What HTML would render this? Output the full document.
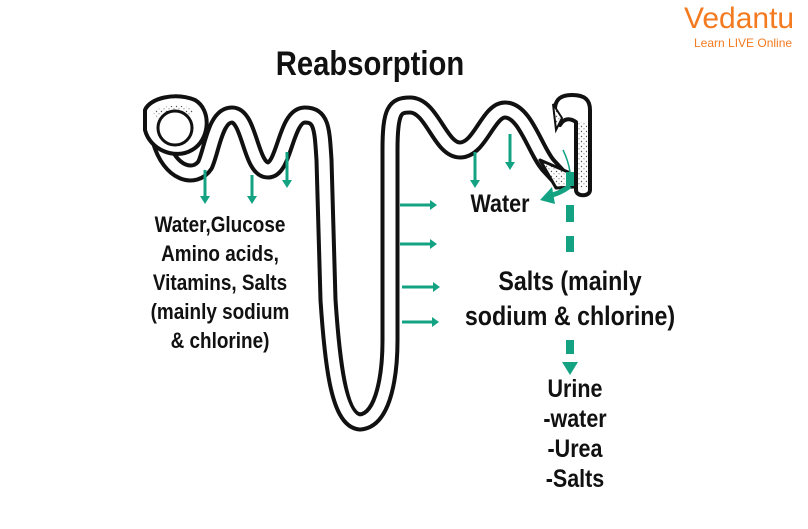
<!DOCTYPE html>
<html><head><meta charset="utf-8"><style>
html,body{margin:0;padding:0;background:#fff;}
body{width:808px;height:529px;overflow:hidden;position:relative;font-family:"Liberation Sans",sans-serif;}
.t{position:absolute;font-weight:bold;color:#111;text-align:center;transform:scaleX(0.86);transform-origin:center top;}
</style></head><body>
<svg width="808" height="529" style="position:absolute;left:0;top:0">
<defs>
<pattern id="dots" width="5" height="5" patternUnits="userSpaceOnUse"><rect width="5" height="5" fill="#fff"/><circle cx="1.5" cy="1.5" r="0.7" fill="#555"/><circle cx="4" cy="3.8" r="0.6" fill="#777"/></pattern>
</defs>
<g fill="none" stroke-linecap="round" stroke-linejoin="round">
<path d="M160 140 C 170 175, 195 180, 205 165 C 212 150, 215 115, 232 115 C 250 115, 250 170, 268 170 C 285 170, 285 115, 305 115 C 322 115, 322 130, 324 160 L 328 300 C 332 360, 338 420, 360 422 C 385 420, 390 370, 390 340 L 390 150 C 390 110, 395 105, 410 105 C 432 105, 440 150, 460 150 C 480 150, 488 110, 505 110 C 525 110, 535 150, 548 165 L 560 178" stroke="#111" stroke-width="19"/>
<path d="M160 140 C 170 175, 195 180, 205 165 C 212 150, 215 115, 232 115 C 250 115, 250 170, 268 170 C 285 170, 285 115, 305 115 C 322 115, 322 130, 324 160 L 328 300 C 332 360, 338 420, 360 422 C 385 420, 390 370, 390 340 L 390 150 C 390 110, 395 105, 410 105 C 432 105, 440 150, 460 150 C 480 150, 488 110, 505 110 C 525 110, 535 150, 548 165 L 560 178" stroke="#fff" stroke-width="11"/>
</g>
<path d="M145 110 C 150 98, 175 92, 195 100 C 212 110, 210 140, 192 150 C 175 160, 150 150, 145 130 Z" fill="#fff" stroke="#111" stroke-width="4"/>
<path d="M152 112 C 165 104, 185 104, 195 110 C 190 120, 172 118, 162 122 Z" fill="url(#dots)"/>
<circle cx="175" cy="128" r="17" fill="#fff" stroke="#111" stroke-width="3"/>
<!-- DCT / collecting duct -->
<path d="M556 118 C 552 100, 560 95, 572 95 C 585 95, 590 100, 590 110 L 590 190 C 590 197, 576 197, 576 190 L 576 122 C 570 118, 564 118, 560 125 Z" fill="#fff" stroke="#111" stroke-width="4" stroke-linejoin="round"/>
<path d="M553 104 L 562 118 L 556 130 Z" fill="url(#dots)" stroke="#111" stroke-width="2"/>
<rect x="578" y="122" width="9" height="66" fill="url(#dots)"/>
<path d="M540 160 L 568 172 L 574 187 L 556 188 Z" fill="url(#dots)" stroke="#111" stroke-width="3" stroke-linejoin="round"/>
<g stroke="#13a383" stroke-width="3" fill="#13a383">
<line x1="205" y1="170" x2="205" y2="196"/><path d="M200 196 L210 196 L205 204 Z" stroke="none"/>
<line x1="252" y1="175" x2="252" y2="196"/><path d="M247 196 L257 196 L252 204 Z" stroke="none"/>
<line x1="287" y1="152" x2="287" y2="180"/><path d="M282 180 L292 180 L287 188 Z" stroke="none"/>
<line x1="475" y1="152" x2="475" y2="180"/><path d="M470 180 L480 180 L475 188 Z" stroke="none"/>
<line x1="510" y1="134" x2="510" y2="162"/><path d="M505 162 L515 162 L510 170 Z" stroke="none"/>
<line x1="400" y1="205" x2="430" y2="205"/><path d="M430 200 L430 210 L437 205 Z" stroke="none"/>
<line x1="400" y1="244" x2="430" y2="244"/><path d="M430 239 L430 249 L437 244 Z" stroke="none"/>
<line x1="402" y1="287" x2="433" y2="287"/><path d="M433 282 L433 292 L440 287 Z" stroke="none"/>
<line x1="402" y1="322" x2="432" y2="322"/><path d="M432 317 L432 327 L439 322 Z" stroke="none"/>
</g>
<rect x="566" y="172" width="8" height="14" fill="#13a383"/>
<rect x="566" y="205" width="8" height="17" fill="#13a383"/>
<rect x="566" y="236" width="8" height="16" fill="#13a383"/>
<rect x="566" y="340" width="8" height="14" fill="#13a383"/>
<path d="M562 362 L578 362 L570 375 Z" fill="#13a383"/>
<path d="M570 186 C 562 192, 556 194, 549 196" stroke="#13a383" stroke-width="5" fill="none"/>
<path d="M540 200 L552 187 L555 204 Z" fill="#13a383"/>
<path d="M563 150 C 567 158, 569 165, 570 172" stroke="#13a383" stroke-width="1.5" fill="none"/>
</svg>
<div class="t" style="left:240px;top:45px;width:260px;font-size:34px;">Reabsorption</div>
<div class="t" style="left:120px;top:210px;width:200px;font-size:22px;line-height:29px;">Water,Glucose<br>Amino acids,<br>Vitamins, Salts<br>(mainly sodium<br>&amp; chlorine)</div>
<div class="t" style="left:440px;top:190px;width:120px;font-size:25px;">Water</div>
<div class="t" style="left:420px;top:264px;width:300px;font-size:27px;line-height:35px;">Salts (mainly<br>sodium &amp; chlorine)</div>
<div class="t" style="left:520px;top:374px;width:110px;font-size:25px;line-height:30px;">Urine<br>-water<br>-Urea<br>-Salts</div>
<div style="position:absolute;left:684px;top:2px;font-size:30px;color:#f47a20;">Vedantu</div>
<div style="position:absolute;left:694px;top:36px;font-size:12px;color:#f47a20;">Learn LIVE Online</div>
</body></html>
